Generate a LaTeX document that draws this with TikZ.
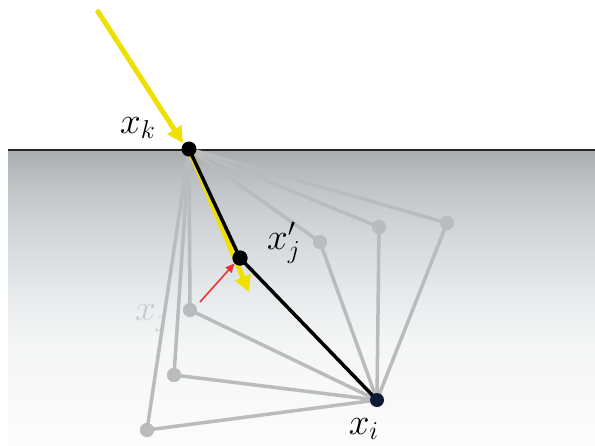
\documentclass[tikz,border=0pt]{standalone}
\usetikzlibrary{arrows.meta}
\definecolor{s0}{HTML}{FCFCFC}
\definecolor{s1}{HTML}{F4F5F5}
\definecolor{s2}{HTML}{E6E9EB}
\definecolor{s3}{HTML}{D0D3D5}
\definecolor{s4}{HTML}{C0C3C5}
\definecolor{s5}{HTML}{AAADAF}
\definecolor{glink}{HTML}{B9BBBD}
\definecolor{ghost}{HTML}{C8CACB}
\definecolor{ylw}{HTML}{EEE000}
\definecolor{navy}{HTML}{0E1A33}
\definecolor{redarr}{HTML}{E8343A}
\pgfdeclareverticalshading{surface}{100bp}{color(0bp)=(s0); color(25bp)=(s0); color(42.8bp)=(s1); color(51.3bp)=(s2); color(62.6bp)=(s3); color(69.1bp)=(s4); color(75bp)=(s5); color(100bp)=(s5)}
\tikzset{
  bdot/.style={circle,fill=black,inner sep=0pt,minimum size=15pt},
  ndot/.style={circle,fill=navy,inner sep=0pt,minimum size=14pt},
  gdot/.style={circle,fill=glink,inner sep=0pt,minimum size=14pt},
  glinkline/.style={glink,line width=3.5pt},
  blackline/.style={black,line width=3.5pt},
  yarrow/.style={ylw,line width=5pt,-{Triangle[length=16pt,width=16pt]}},
  lbl/.style={font=\LARGE,scale=2.15,inner sep=0pt}
}
\begin{document}
\begin{tikzpicture}[x=1pt,y=-1pt]
\useasboundingbox (0,0) rectangle (595,445);
\shade[shading=surface] (8,150) rectangle (595,445);
\coordinate (sl) at (8,150);
\coordinate (sr) at (595,150);
\draw[black!85,line width=1.4pt] (sl) -- (sr);
% ghost label
\node[lbl,text=ghost] (xjg) at (152,318) {$x_j$};
% nodes
\node[gdot] (g1) at (320,242) {};
\node[gdot] (g2) at (379,227) {};
\node[gdot] (g3) at (447,223) {};
\node[gdot] (g4) at (190,310) {};
\node[gdot] (g5) at (174,375) {};
\node[gdot] (g6) at (147,430) {};
\coordinate (xkc) at (189,149);
\coordinate (xic) at (377,400);
% gray links
\foreach \g in {g1,g2,g3,g4,g5,g6}{
  \draw[glinkline] (xkc) -- (\g.center);
  \draw[glinkline] (\g.center) -- (xic);
}
\node[gdot] at (g1) {};
\node[gdot] at (g2) {};
\node[gdot] at (g3) {};
\node[gdot] at (g4) {};
\node[gdot] at (g5) {};
\node[gdot] at (g6) {};
% yellow arrows
\coordinate (ystart) at (97,10);
\coordinate (yend2) at (249,292);
\draw[yarrow] (ystart) -- (183,143);
\draw[yarrow] (xkc) -- (yend2);
% black path
\node[bdot] (xjp) at (240,258) {};
\draw[blackline] (xkc) -- (xjp.center) -- (xic);
\node[bdot] (xk) at (xkc) {};
\node[bdot] at (xjp) {};
\node[ndot] (xi) at (xic) {};
% red arrow
\coordinate (rstart) at (200,302);
\draw[redarr,line width=1.6pt,-{Triangle[length=9pt,width=8pt]}] (rstart) -- (xjp.south west);
% labels
\node[lbl] (lk) at (138,128) {$x_k$};
\node[lbl] (lj) at (284,243) {$x'_j$};
\node[lbl] (li) at (364,429) {$x_i$};
\end{tikzpicture}
\end{document}
